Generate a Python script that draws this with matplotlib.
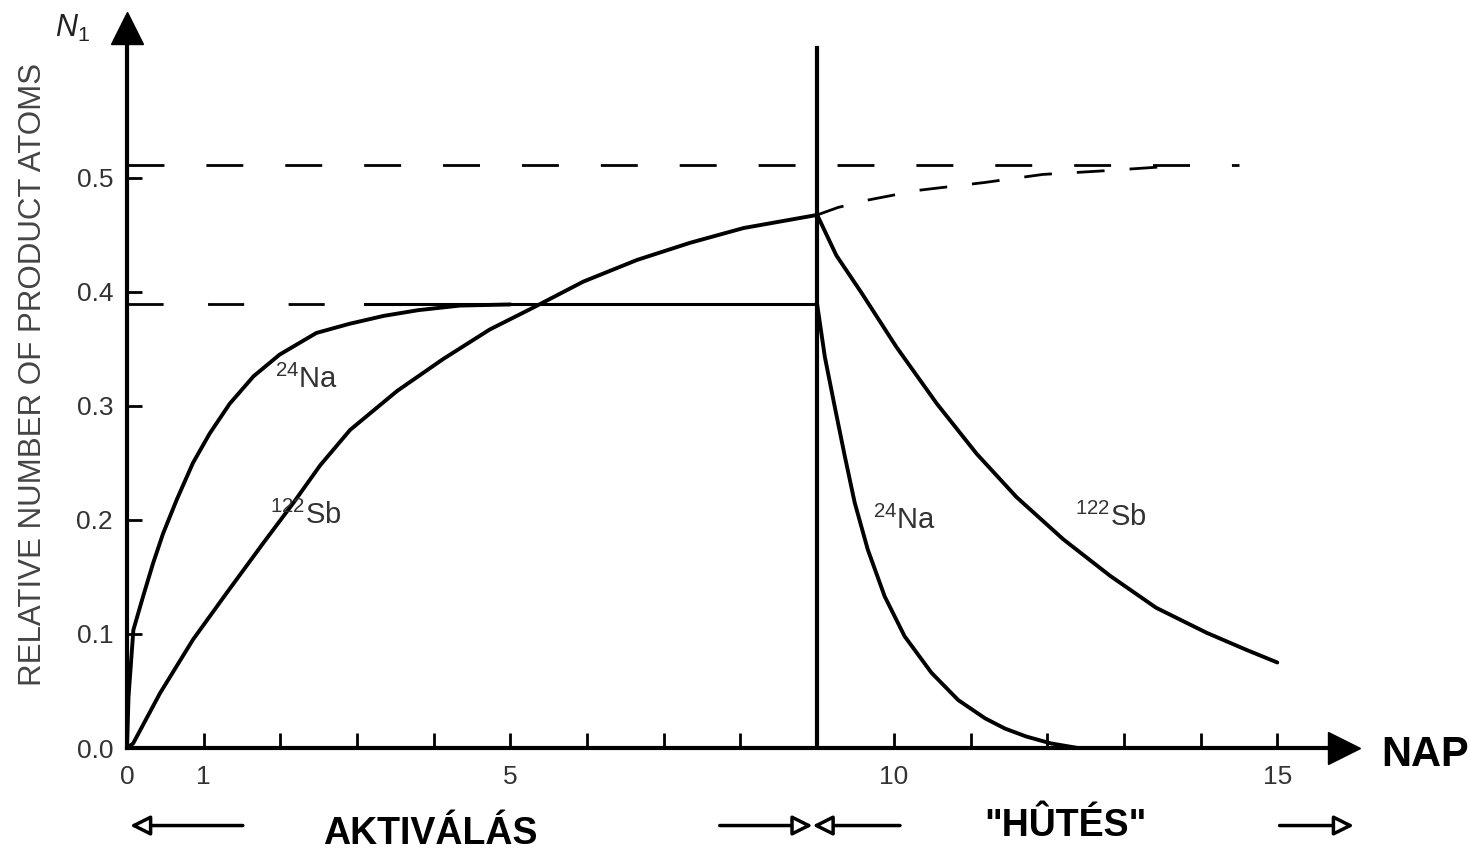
import matplotlib
matplotlib.use("Agg")
import matplotlib.pyplot as plt

plt.rcParams['font.family'] = ['Liberation Sans', 'DejaVu Sans']
plt.rcParams['mathtext.fontset'] = 'custom'
plt.rcParams['mathtext.rm'] = 'Liberation Sans'
plt.rcParams['mathtext.it'] = 'Liberation Sans:italic'

# 24Na aktiválás (nap, relatív atomszám)
na_act_t = [0, 0.02, 0.083, 0.21, 0.34, 0.47, 0.65, 0.86, 1.08, 1.34, 1.65, 1.99, 2.47, 2.90, 3.35, 3.80, 4.34, 5.0]
na_act_n = [0, 0.045, 0.1035, 0.133, 0.162, 0.188, 0.218, 0.250, 0.276, 0.302, 0.326, 0.345, 0.364, 0.372, 0.379, 0.384, 0.388, 0.389]
# 122Sb aktiválás
sb_act_t = [0, 0.08, 0.43, 0.86, 1.30, 1.78, 2.17, 2.52, 2.91, 3.52, 4.12, 4.73, 5.32, 5.95, 6.65, 7.34, 8.04, 9.0]
sb_act_n = [0, 0.004, 0.048, 0.095, 0.136, 0.180, 0.215, 0.248, 0.279, 0.313, 0.341, 0.367, 0.387, 0.409, 0.428, 0.443, 0.456, 0.4675]
# hűtés (bomlás)
na_dec_t = [9.0, 9.10, 9.23, 9.36, 9.49, 9.66, 9.88, 10.14, 10.49, 10.84, 11.19, 11.45, 11.73, 12.05, 12.4]
na_dec_n = [0.389, 0.343, 0.299, 0.256, 0.215, 0.174, 0.133, 0.098, 0.066, 0.042, 0.026, 0.017, 0.010, 0.004, 0.0]
sb_dec_t = [9.0, 9.25, 9.58, 10.03, 10.56, 11.08, 11.60, 12.21, 12.82, 13.42, 14.08, 14.60, 15.0]
sb_dec_n = [0.4675, 0.432, 0.399, 0.352, 0.302, 0.258, 0.220, 0.183, 0.151, 0.123, 0.101, 0.086, 0.075]
# Sb aktiválás folytatása (szaggatott)
sb_cont_t = [9.0, 9.27, 9.62, 10.31, 11.19, 11.94, 12.69, 13.57]
sb_cont_n = [0.4675, 0.474, 0.480, 0.489, 0.496, 0.503, 0.506, 0.510]

na_sat = 0.389
sb_sat = 0.511
t_stop = 9.0

x_ticks = list(range(16))
x_labels = ['0', '1', '', '', '', '5', '', '', '', '', '10', '', '', '', '', '15']
y_ticks = [0.0, 0.1, 0.2, 0.3, 0.4, 0.5]
y_labels = ['0.0', '0.1', '0.2', '0.3', '0.4', '0.5']

fig = plt.figure(figsize=(14.7, 8.55), dpi=100)
ax = fig.add_axes([127/1470, 107/855, 1217/1470, 719.5/855])
ax.set_xlim(0, 15.87)
ax.set_ylim(0, 0.631)

for s in ['top', 'right']:
    ax.spines[s].set_visible(False)
for s in ['left', 'bottom']:
    ax.spines[s].set_linewidth(3)

# tengely nyilak
ax.plot(1, 0, '>', transform=ax.transAxes, clip_on=False, ms=23, color='k')
ax.plot(0, 1, '^', transform=ax.transAxes, clip_on=False, ms=23, color='k')

ax.set_xticks(x_ticks)
ax.set_xticklabels(x_labels)
ax.set_yticks(y_ticks)
ax.set_yticklabels(y_labels)
ax.tick_params(axis='x', direction='in', length=11, width=2, pad=12, labelsize=19, labelcolor='#333')
ax.tick_params(axis='y', direction='in', length=11, width=2, pad=10, labelsize=19, labelcolor='#333')

# telítési szintek
ax.plot([0, 14.5], [sb_sat, sb_sat], color='k', lw=2, linestyle=(0, (13.3, 15.1)))
ax.plot([0, 3.1], [na_sat, na_sat], color='k', lw=2, linestyle=(0, (13, 16)))
ax.plot([3.1, t_stop], [na_sat, na_sat], color='k', lw=2.2)
ax.plot([t_stop, t_stop], [0, 0.614], color='k', lw=3)

curve = dict(color='k', lw=2.8, solid_joinstyle='round', solid_capstyle='round')
ax.plot(na_act_t, na_act_n, **curve)
ax.plot(sb_act_t, sb_act_n, **curve)
ax.plot(na_dec_t, na_dec_n, **curve)
ax.plot(sb_dec_t, sb_dec_n, **curve)
ax.plot(sb_cont_t, sb_cont_n, color='k', lw=2, linestyle=(0, (10, 9)))

lab = dict(fontsize=21, color='#333', va='center', ha='left')
ax.text(1.93, 0.323, r'$^{24}$Na', **lab)
ax.text(1.86, 0.204, r'$^{122}$Sb', **lab)
ax.text(9.73, 0.200, r'$^{24}$Na', **lab)
ax.text(12.36, 0.202, r'$^{122}$Sb', **lab)

fig.text(33/1470, 1 - 375/855, 'RELATIVE NUMBER OF PRODUCT ATOMS', rotation=90,
         ha='center', va='center', fontsize=22.5, color='#444')
fig.text(72/1470, 1 - 28/855, r'$N_1$', ha='center', va='center', fontsize=22, color='#222')

bold = dict(family=['Liberation Sans Narrow', 'Liberation Sans'], fontweight='bold', color='k')
fig.text(1425/1470, 1 - 755/855, 'NAP', ha='center', va='center', fontsize=30, **bold)
fig.text(430/1470, 1 - 834/855, 'AKTIVÁLÁS', ha='center', va='center', fontsize=27, **bold)
fig.text(1065/1470, 1 - 826/855, '"HÛTÉS"', ha='center', va='center', fontsize=27, **bold)

# alsó nyilak
y_arr = -0.068
arr = dict(arrowstyle='-|>', fc='white', ec='k', lw=2.5, mutation_scale=30, shrinkA=0, shrinkB=0)
ax.annotate('', xy=(0.04, y_arr), xytext=(1.51, y_arr), xycoords='data', arrowprops=arr, annotation_clip=False)
ax.annotate('', xy=(8.94, y_arr), xytext=(7.73, y_arr), xycoords='data', arrowprops=arr, annotation_clip=False)
ax.annotate('', xy=(8.94, y_arr), xytext=(10.08, y_arr), xycoords='data', arrowprops=arr, annotation_clip=False)
ax.annotate('', xy=(16.0, y_arr), xytext=(15.03, y_arr), xycoords='data', arrowprops=arr, annotation_clip=False)

fig.savefig('out.png', dpi=100, facecolor='white')
